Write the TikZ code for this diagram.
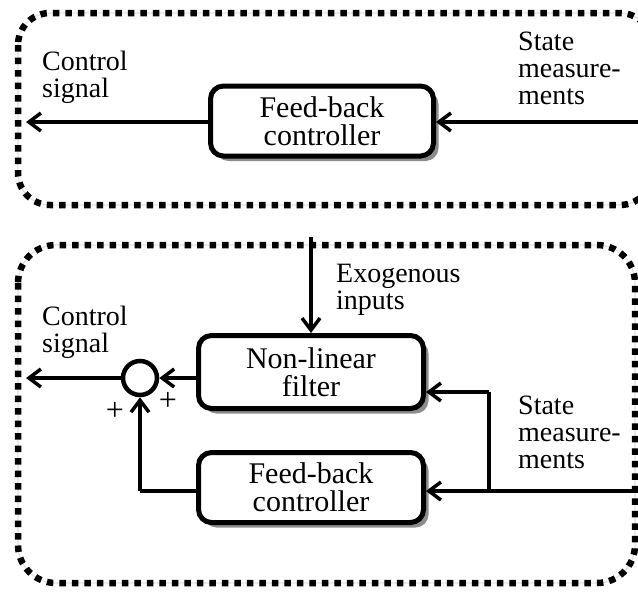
\documentclass[tikz,border=0pt]{standalone}
\usepackage{fontspec}
\setmainfont{Liberation Serif}
\usetikzlibrary{arrows.meta,shadows,calc}
\begin{document}
\begin{tikzpicture}[x=1pt,y=-1pt,
  txt/.style={font=\fontsize{28}{27}\selectfont, align=left, inner sep=0pt},
  blk/.style={draw, line width=5pt, rounded corners=13pt, fill=white,
    align=center, inner sep=0pt, font=\fontsize{30}{28}\selectfont,
    drop shadow={shadow xshift=5pt, shadow yshift=-5pt, fill=black!45, opacity=1}},
  wire/.style={line width=4pt, -{Straight Barb[length=12pt,width=18pt,line width=3.5pt]}},
  plain/.style={line width=4pt},
  frameline/.style={line width=6.5pt, dash pattern=on 6.5pt off 6pt},
  framebase/.style={line width=1.2pt, black!12},
  sign/.style={font=\fontsize{32}{32}\selectfont, inner sep=0pt},
]
\useasboundingbox (0,0) rectangle (638,592);
\clip (0,0) rectangle (638,592);

% dotted enclosures
\draw[framebase, rounded corners=32pt] (18,13) rectangle (652,205);
\draw[frameline, rounded corners=32pt] (18,13) rectangle (652,205);
\draw[framebase, rounded corners=38pt] (18,245) rectangle (635,583);
\draw[frameline, rounded corners=38pt] (18,245) rectangle (635,583);

% upper scheme
\node[blk, minimum width=223pt, minimum height=70pt] (fbtop) at (322,121) {Feed-back\\controller};
\coordinate (toutL) at (26,122);
\coordinate (tinR) at (640,122);
\draw[wire] (fbtop.west |- toutL) -- (toutL);
\draw[wire] (tinR) -- (tinR -| fbtop.east);
\node[txt, anchor=north west] (tcs) at (42,51) {Control\\signal};
\node[txt, anchor=north west] (tsm) at (518,32) {State\\measure-\\ments};

% lower scheme
\node[blk, minimum width=225pt, minimum height=73pt] (nlf) at (311,372) {Non-linear\\filter};
\node[blk, minimum width=225pt, minimum height=70pt] (fbbot) at (311,487.5) {Feed-back\\controller};
\node[draw, circle, line width=4.5pt, minimum size=34pt, inner sep=0pt, fill=white] (sum) at (140,378) {};

\coordinate (exo) at (311,237);
\draw[wire] (exo) -- (exo |- nlf.north);
\node[txt, anchor=north west] (exot) at (336,264) {Exogenous\\inputs};

\coordinate (boutL) at (26,378);
\draw[wire] (sum.west) -- (boutL);
\draw[wire] (nlf.west |- sum) -- (sum.east);
\coordinate (fbturn) at (sum |- 0,491);
\draw[plain] (fbbot.west |- fbturn) -- (fbturn);
\draw[wire] (fbturn) -- (sum.south);

\coordinate (binR) at (640,491);
\coordinate (branch) at (489,491);
\coordinate (branchup) at (489,392);
\draw[wire] (binR) -- (binR -| fbbot.east);
\draw[plain] (branch) -- (branchup);
\draw[wire] (branchup) -- (branchup -| nlf.east);

\node[txt, anchor=north west] (bcs) at (42,306) {Control\\signal};
\node[txt, anchor=north west] (bsm) at (518,396) {State\\measure-\\ments};
\node[sign] (pl1) at (115,411) {+};
\node[sign] (pl2) at (168,401) {+};
\end{tikzpicture}
\end{document}
